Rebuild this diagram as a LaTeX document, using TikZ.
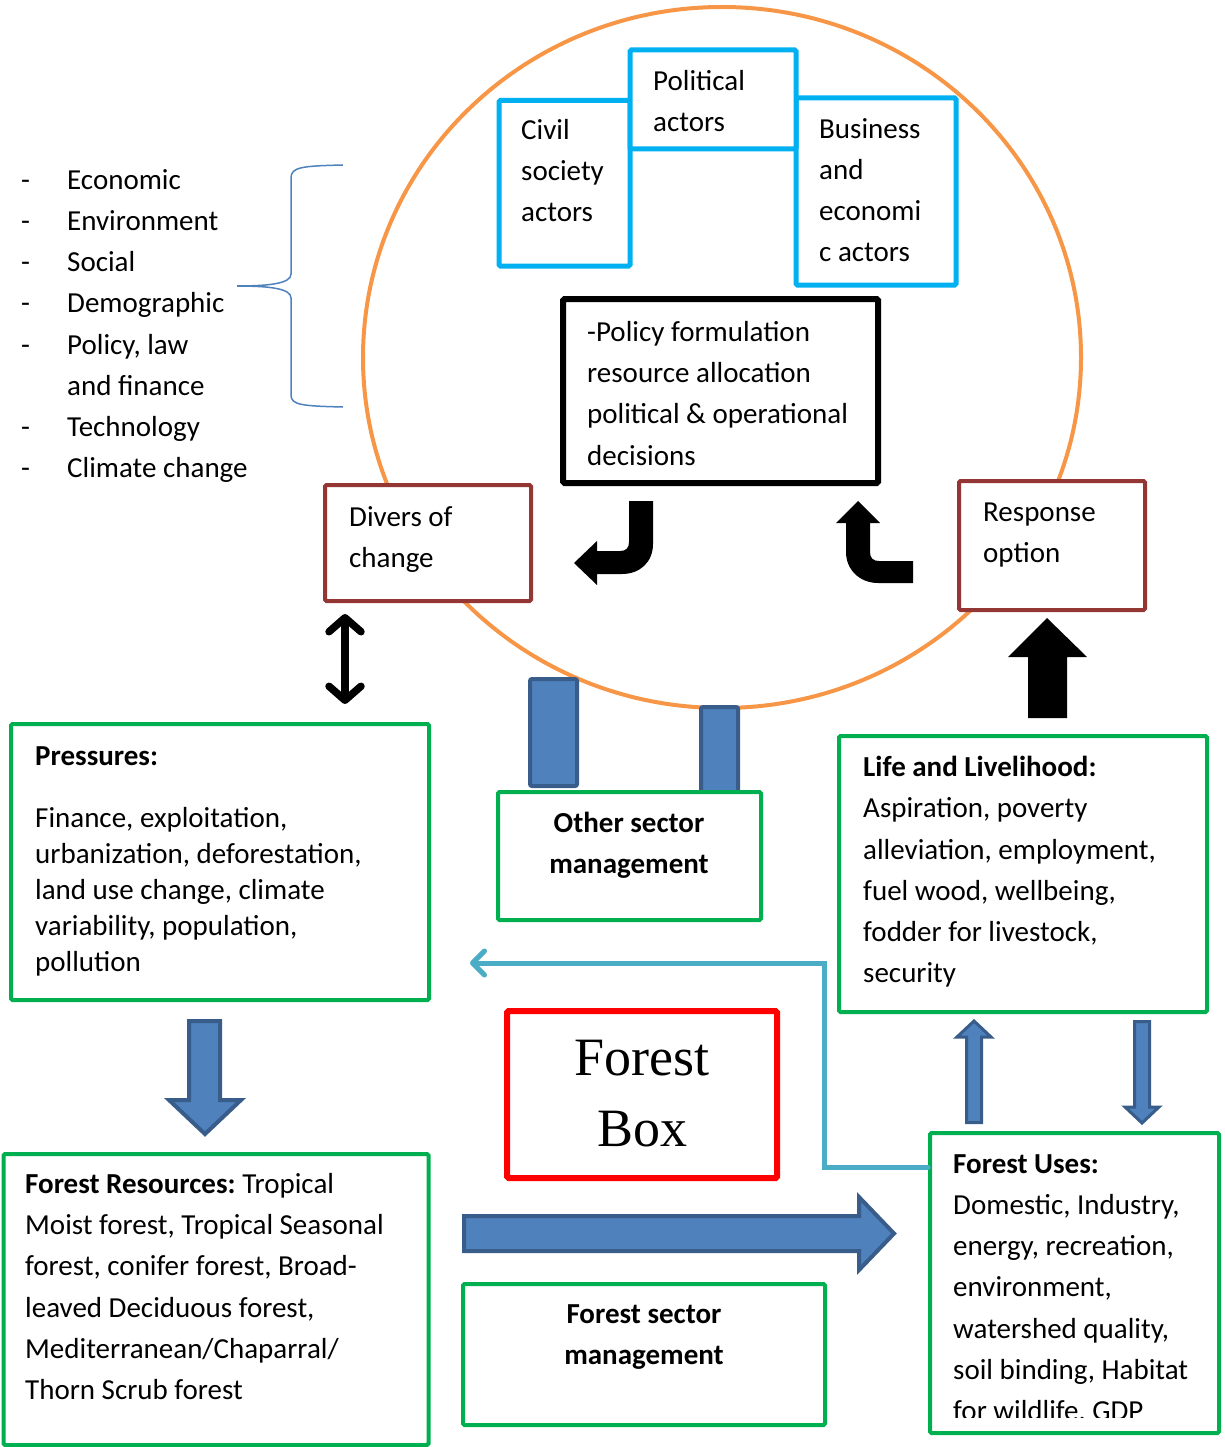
\documentclass[tikz,border=0pt]{standalone}
\usepackage{fontspec}
\setmainfont{Carlito}
\newfontfamily\boxserif{Liberation Serif}
\usetikzlibrary{arrows.meta,shapes.geometric}
\definecolor{orng}{HTML}{F79646}
\definecolor{cyanb}{HTML}{00B0F0}
\definecolor{brwn}{HTML}{943634}
\definecolor{grn}{HTML}{00B050}
\definecolor{redb}{HTML}{FF0000}
\definecolor{blu}{HTML}{4F81BD}
\definecolor{bludark}{HTML}{385D8A}
\definecolor{tealb}{HTML}{4BACC6}
\begin{document}
\begin{tikzpicture}[x=1pt,y=-1pt,
  box/.style={draw,fill=white,rectangle,inner sep=0pt,rounded corners=1.5pt},
  cbox/.style={box,draw=cyanb,line width=5pt},
  bbox/.style={box,draw=brwn,line width=4pt},
  gbox/.style={box,draw=grn,line width=4pt},
  kbox/.style={box,draw=black,line width=6pt},
  rbox/.style={box,draw=redb,line width=6pt},
  pillar/.style={draw=bludark,fill=blu,line width=4pt,rectangle,inner sep=0pt,rounded corners=2pt},
  blockarrow/.style={fill=blu,draw=bludark,line width=4pt,line join=miter},
  thinblock/.style={fill=blu,draw=bludark,line width=3pt,line join=miter},
  txt/.style={inner sep=0pt,anchor=north west,align=left,font=\fontsize{29}{41.2}\selectfont},
  ctxt/.style={txt,anchor=north,align=center},
  tealline/.style={draw=tealb,line width=5pt,line cap=round,-{Straight Barb[length=12pt,width=24pt,line cap=round,line join=round]}},
  dblarrow/.style={draw=black,line width=7.5pt,{Straight Barb[length=14pt,width=32pt,line cap=round,line join=round]}-{Straight Barb[length=14pt,width=32pt,line cap=round,line join=round]}}
]
\useasboundingbox (0,0) rectangle (1225,1447);

% big ring
\node[draw=orng,ellipse,line width=4pt,minimum width=718pt,minimum height=701pt,inner sep=0pt] (ring) at (722,357.5) {};

% actor boxes
\node[cbox,minimum width=131pt,minimum height=165.5pt] (civil) at (564.5,183.25) {};
\node[cbox,minimum width=160pt,minimum height=187pt] (business) at (876,191.5) {};
\node[cbox,minimum width=166pt,minimum height=99pt] (political) at (713,99.5) {};
\node[txt] (tcivil) at (521,119.2) {Civil\\society\\actors};
\node[txt] (tpolitical) at (653,70.2) {Political\\actors};
\node[txt] (tbusiness) at (819,118.2) {Business\\and\\economi\\c actors};

% policy box
\node[kbox,minimum width=315pt,minimum height=184pt] (policy) at (720.5,391) {};
\node[txt] (tpolicy) at (587,321.2) {-Policy formulation\\resource allocation\\political \& operational\\decisions};

% drivers / response
\node[bbox,minimum width=206pt,minimum height=116pt] (divers) at (428,543) {};
\node[txt] (tdivers) at (349,506.2) {Divers of\\change};
\node[bbox,minimum width=186pt,minimum height=129pt] (response) at (1052,545.5) {};
\node[txt] (tresponse) at (983,502.2) {Response\\option};

% bent black arrows
\fill[black] (629,501) -- (653,501) -- (653,544) .. controls (653,562) and (640,574) .. (622,574) -- (597,574) -- (597,585) -- (574,563) -- (597,541) -- (597,551) -- (620,551) .. controls (626,551) and (629,548) .. (629,542) -- cycle;
\fill[black] (913,561) -- (913,583) -- (878,583) .. controls (860,583) and (846,570) .. (846,552) -- (846,523) -- (836,523) -- (858,501) -- (880,523) -- (870,523) -- (870,552) .. controls (870,558) and (873,561) .. (879,561) -- cycle;

% left list and brace
\node[inner sep=0pt,anchor=north west,font=\fontsize{29}{41.2}\selectfont] (tlist) at (21,160.2) {\begin{tabular}{@{}p{46pt}@{}l@{}}
-&Economic\\
-&Environment\\
-&Social\\
-&Demographic\\
-&Policy, law\\
&and finance\\
-&Technology\\
-&Climate change
\end{tabular}};
\draw[blu,line width=1.5pt] (343,165) .. controls (302,166) and (291,167) .. (291,178) -- (291,274) .. controls (291,283) and (272,286) .. (237,286) .. controls (272,286) and (291,289) .. (291,298) -- (291,395) .. controls (291,405) and (302,406) .. (343,407);

% pillars under ring
\node[pillar,minimum width=47pt,minimum height=107pt] (pillarA) at (553.5,732.5) {};
\node[pillar,minimum width=37pt,minimum height=85pt] (pillarB) at (719.5,749.5) {};

% other sector management
\node[gbox,minimum width=263pt,minimum height=128pt] (other) at (629.5,856) {};
\node[ctxt] (tother) at (629,812.2) {\textbf{Other sector}\\\textbf{management}};

% pressures
\node[gbox,minimum width=418pt,minimum height=276pt] (press) at (220,862) {};
\node[txt,font=\fontsize{29}{36}\selectfont] (tpress) at (35,746.8) {\textbf{Pressures:}\\[26pt]Finance, exploitation,\\urbanization, deforestation,\\land use change, climate\\variability, population,\\pollution};

% life and livelihood
\node[gbox,minimum width=368pt,minimum height=276pt] (life) at (1023,874) {};
\node[txt] (tlife) at (863,756.2) {\textbf{Life and Livelihood:}\\Aspiration, poverty\\alleviation, employment,\\fuel wood, wellbeing,\\fodder for livestock,\\security};

% black up arrow response <- life
\fill[black] (1028,718) -- (1028,657) -- (1008,657) -- (1047,618) -- (1087,657) -- (1067,657) -- (1067,718) -- cycle;

% double arrow drivers <-> pressures
\coordinate (dblx) at (345,0);
\draw[dblarrow,shorten <=11pt,shorten >=18pt] (divers.south -| dblx) -- (press.north -| dblx);

% forest box
\node[inner sep=0pt,anchor=north,align=center,font=\boxserif\fontsize{54}{71}\selectfont] (tfbox) at (642,1039.5) {Forest\\Box};
\node[rbox,fill=none,minimum width=270pt,minimum height=167pt] (fbox) at (642,1094.5) {};

% forest resources
\node[gbox,minimum width=425pt,minimum height=291pt] (res) at (216,1299.5) {};
\node[txt] (tres) at (25,1173.2) {\textbf{Forest Resources:}\hspace{-2pt} Tropical\\Moist forest, Tropical Seasonal\\forest, conifer forest, Broad-\\leaved Deciduous forest,\\Mediterranean/Chaparral/\\Thorn Scrub forest};

% forest sector management
\node[gbox,minimum width=362pt,minimum height=141pt] (fsm) at (644,1354.5) {};
\node[ctxt] (tfsm) at (644,1304.2) {\textbf{Forest sector}\\\textbf{management}};

% forest uses
\node[gbox,minimum width=289pt,minimum height=300pt] (fuses) at (1074.5,1283) {};
\begin{scope}
\clip (940,1140) rectangle (1212,1417);
\node[txt] (tfuses) at (953,1154.2) {\textbf{Forest Uses:}\\Domestic, Industry,\\energy, recreation,\\environment,\\watershed quality,\\soil binding, Habitat\\for wildlife, GDP};
\end{scope}

% block arrows
\draw[blockarrow] (189,1021) -- (220,1021) -- (220,1100) -- (241,1100) -- (205,1134) -- (169,1100) -- (189,1100) -- cycle;
\draw[blockarrow] (464,1216) -- (859,1216) -- (859,1197) -- (894,1233.5) -- (859,1270) -- (859,1251) -- (464,1251) -- cycle;
\draw[thinblock] (966.5,1122.5) -- (966.5,1037) -- (957,1037) -- (974,1021) -- (991,1037) -- (981.5,1037) -- (981.5,1122.5) -- cycle;
\draw[thinblock] (1134.5,1021.5) -- (1149.5,1021.5) -- (1149.5,1107) -- (1159,1107) -- (1142,1123) -- (1125,1107) -- (1134.5,1107) -- cycle;

% teal connector forest uses -> pressures
\coordinate (tealy) at (0,1167);
\coordinate (tealcorner) at (824,963);
\coordinate (pin) at (470,963);
\draw[tealline] (fuses.west |- tealy) -| (tealcorner) -- (pin);
\end{tikzpicture}
\end{document}
